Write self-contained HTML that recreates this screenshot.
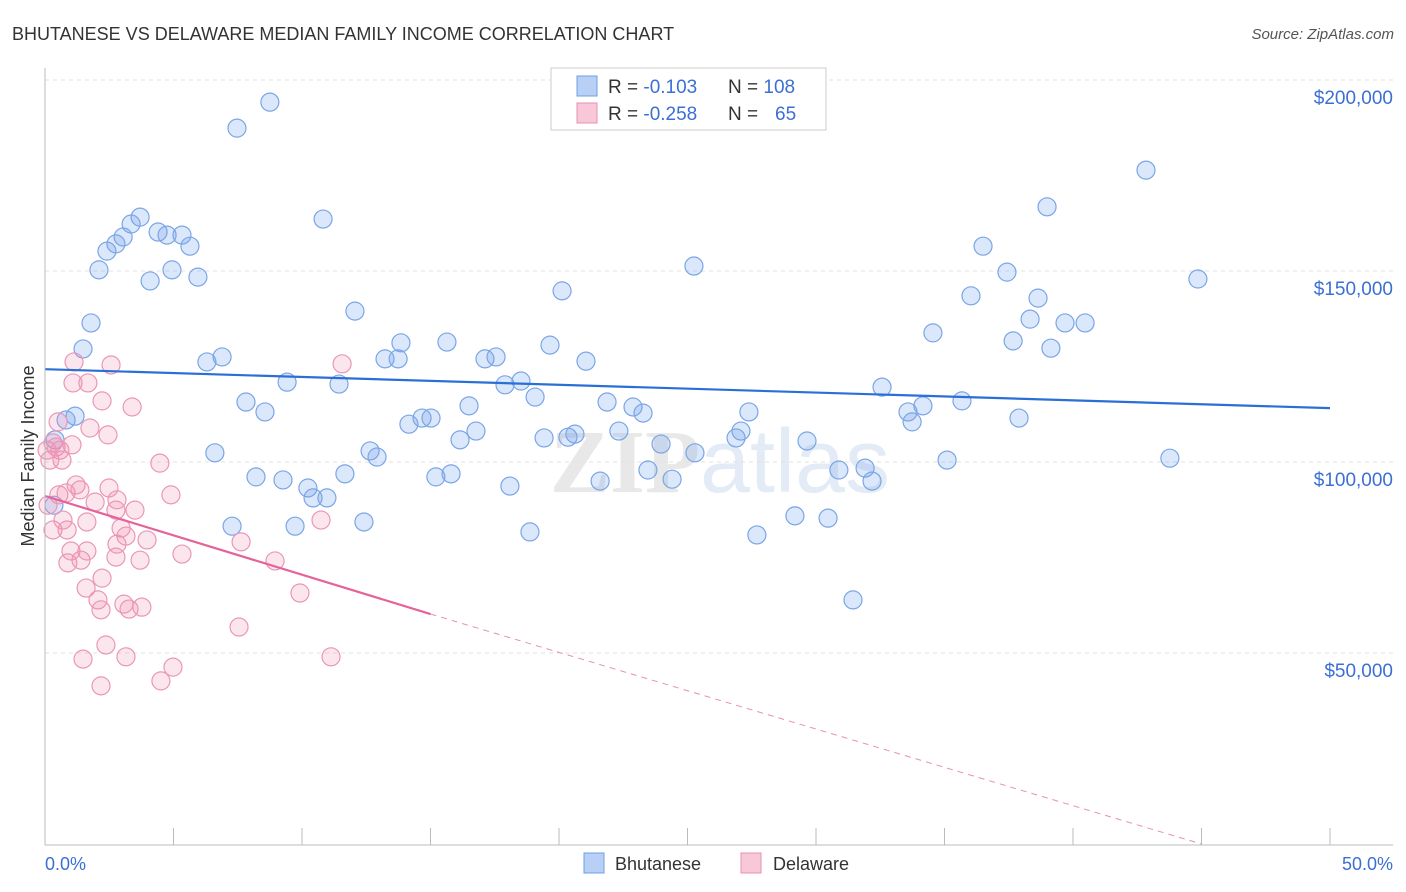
<!DOCTYPE html>
<html><head><meta charset="utf-8"><style>
body{margin:0;background:#fff;font-family:"Liberation Sans",sans-serif;}
#wrap{position:relative;width:1406px;height:892px;overflow:hidden;}
</style></head><body>
<div id="wrap">
<svg id="svg" width="1406" height="892">
<text x="12" y="40" font-size="18" fill="#333">BHUTANESE VS DELAWARE MEDIAN FAMILY INCOME CORRELATION CHART</text>
<text x="1394" y="39" font-size="15" fill="#555" text-anchor="end" font-style="italic">Source: ZipAtlas.com</text>
<text x="720" y="492" font-size="90" fill="#e8e8e8" text-anchor="middle" font-family="Liberation Serif" font-weight="bold">ZIP<tspan fill="#e3ebf6" font-family="Liberation Sans" font-weight="normal">atlas</tspan></text>
<g id="grid"></g><g id="pts"></g><g id="trend"></g>
<line x1="45" y1="68" x2="45" y2="845" stroke="#bbb"/>
<line x1="45" y1="845" x2="1393" y2="845" stroke="#bbb"/>
<text x="34" y="456" font-size="18" fill="#333" text-anchor="middle" transform="rotate(-90 34 456)">Median Family Income</text>
<text x="45" y="870" font-size="18" fill="#3b6fd4">0.0%</text>
<text x="1393" y="870" font-size="18" fill="#3b6fd4" text-anchor="end">50.0%</text>
<g>
<rect x="551" y="68" width="275" height="62" fill="#fff" stroke="#ccc"/>
<rect x="577" y="76" width="20" height="20" fill="#b8d0f5" stroke="#6f9fe0"/>
<rect x="577" y="103" width="20" height="20" fill="#f8c8d8" stroke="#e890b0"/>
<text x="608" y="93" font-size="19" fill="#333">R = <tspan fill="#3b6fd4">-0.103</tspan><tspan x="728">N = </tspan><tspan fill="#3b6fd4">108</tspan></text>
<text x="608" y="120" font-size="19" fill="#333">R = <tspan fill="#3b6fd4">-0.258</tspan><tspan x="728">N = </tspan><tspan fill="#3b6fd4" x="775">65</tspan></text>
</g>
<g>
<rect x="584" y="853" width="20" height="20" fill="#b8d0f5" stroke="#6f9fe0"/>
<text x="615" y="870" font-size="18" fill="#333">Bhutanese</text>
<rect x="741" y="853" width="20" height="20" fill="#f8c8d8" stroke="#e890b0"/>
<text x="773" y="870" font-size="18" fill="#333">Delaware</text>
</g>
</svg>
</div>
<script>
const yTicks=[50,100,150,200];
const yTickLabels=["$50,000","$100,000","$150,000","$200,000"];
const xTicks=[0,5,10,15,20,25,30,35,40,45,50];
const bhuX=[7.47,8.75,3.70,3.35,4.40,4.75,5.33,3.04,2.76,5.64,2.41,2.10,4.94,4.09,5.95,10.82,1.79,1.48,12.06,6.30,6.89,9.42,11.44,7.82,8.56,1.17,0.82,6.61,8.21,9.26,10.23,10.43,10.97,11.67,7.28,9.73,12.41,12.65,12.92,13.23,13.74,13.85,14.16,14.67,15.02,15.64,16.15,16.50,16.77,15.21,15.80,17.12,17.55,17.90,18.52,19.07,19.42,19.65,20.12,20.35,20.62,21.05,21.87,22.33,22.88,23.27,23.46,23.97,24.40,25.29,25.25,21.60,18.09,18.87,26.89,27.08,27.39,27.70,29.18,29.65,30.47,30.89,31.91,32.18,31.44,32.57,33.58,33.74,34.16,34.55,35.10,35.68,36.03,36.50,37.43,37.67,37.90,38.33,38.64,39.14,39.69,40.47,38.99,42.84,43.77,44.86,0.35,0.39];
const bhuY=[187.4,194.2,164.1,162.3,160.2,159.4,159.4,158.9,157.1,156.5,155.2,150.3,150.3,147.4,148.4,163.6,136.4,129.6,139.5,126.2,127.5,120.9,120.4,115.7,113.1,112.0,111.0,102.4,96.1,95.3,93.2,90.6,90.6,96.9,83.2,83.2,84.3,102.9,101.3,127.0,127.0,131.2,109.9,111.5,111.5,131.4,105.8,114.7,108.1,96.1,96.9,127.0,127.5,120.2,121.2,117.0,106.3,130.6,144.8,106.5,107.3,126.4,115.7,108.1,114.4,112.8,97.9,104.7,95.5,102.4,151.3,95.0,93.7,81.7,106.3,108.1,113.1,80.9,85.9,105.5,85.3,97.9,98.4,95.0,63.9,119.6,113.1,110.5,114.7,133.8,100.5,116.0,143.5,156.5,149.7,131.7,111.5,137.4,142.9,129.8,136.4,136.4,166.8,176.4,101.0,147.9,88.7,105.8];
const delX=[0.08,0.19,0.31,0.43,0.58,0.51,0.66,0.12,0.31,0.54,0.70,0.82,0.86,1.05,1.13,1.09,1.67,1.75,2.22,2.45,2.57,3.39,1.21,1.36,1.95,1.63,2.49,2.80,2.76,3.50,3.97,2.96,3.15,1.01,0.89,1.40,1.63,2.80,2.76,3.70,2.22,1.60,2.06,2.18,3.07,3.27,3.77,5.33,4.90,4.47,7.63,8.95,9.92,10.74,11.56,7.55,2.37,1.48,3.15,2.18,4.51,4.98,11.13];
const delY=[103.1,100.5,105.0,103.9,103.1,110.5,100.5,88.7,82.2,91.4,84.8,91.9,82.2,104.5,126.2,120.7,120.7,108.9,116.0,107.1,125.4,114.4,94.0,92.7,89.5,84.3,93.2,90.1,87.4,87.4,79.6,82.7,80.6,76.7,73.6,74.3,76.7,78.5,75.1,74.3,69.6,67.0,63.9,61.3,62.8,61.5,62.0,75.9,91.4,99.7,79.1,74.1,65.7,84.8,125.7,56.8,52.1,48.4,49.0,41.4,42.7,46.3,49.0];
const bhuTrend=[124.3,114.1];
const delTrend=[91.1,60.2,0];
const delTrendX=[0,15,45];
const NS="http://www.w3.org/2000/svg";
const X=v=>45+v*25.7, Y=v=>844-v*3.82;
function mk(t,a,p){const e=document.createElementNS(NS,t);for(const k in a)e.setAttribute(k,a[k]);p.appendChild(e);return e;}
const grid=document.getElementById('grid'),pts=document.getElementById('pts'),tr=document.getElementById('trend');
yTicks.forEach((v,i)=>{
 const l=mk('line',{x1:45,x2:1393,y1:Y(v),y2:Y(v),stroke:'#e2e2e2','stroke-dasharray':'4,4'},grid);
 
 
 const t=mk('text',{x:1393,y:Y(v)+24,'font-size':19,fill:'#3b6fd4','text-anchor':'end'},grid);
 t.textContent=yTickLabels[i];
 
 
});
xTicks.forEach(v=>{
 const l=mk('line',{x1:X(v),x2:X(v),y1:828,y2:845,stroke:'#bbb'},grid);
 
 
});
bhuX.forEach((v,i)=>{
 const c=mk('circle',{cx:X(v),cy:Y(bhuY[i]),r:9,fill:'rgba(110,160,235,0.25)',stroke:'#7aa6e6','stroke-width':1.2},pts);
 
 
});
delX.forEach((v,i)=>{
 const c=mk('circle',{cx:X(v),cy:Y(delY[i]),r:9,fill:'rgba(240,140,175,0.22)',stroke:'#eb96b6','stroke-width':1.2},pts);
 
 
});
const bl=mk('line',{x1:X(0),y1:Y(bhuTrend[0]),x2:X(50),y2:Y(bhuTrend[1]),stroke:'#2a6fd6','stroke-width':2.2},tr);


const pl=mk('line',{x1:X(delTrendX[0]),y1:Y(delTrend[0]),x2:X(delTrendX[1]),y2:Y(delTrend[1]),stroke:'#e4649a','stroke-width':2.2},tr);


const pd=mk('line',{x1:X(delTrendX[1]),y1:Y(delTrend[1]),x2:X(delTrendX[2]),y2:Y(delTrend[2]),stroke:'#e890b0','stroke-width':1,'stroke-dasharray':'6,5'},tr);


</script>
</body></html>
